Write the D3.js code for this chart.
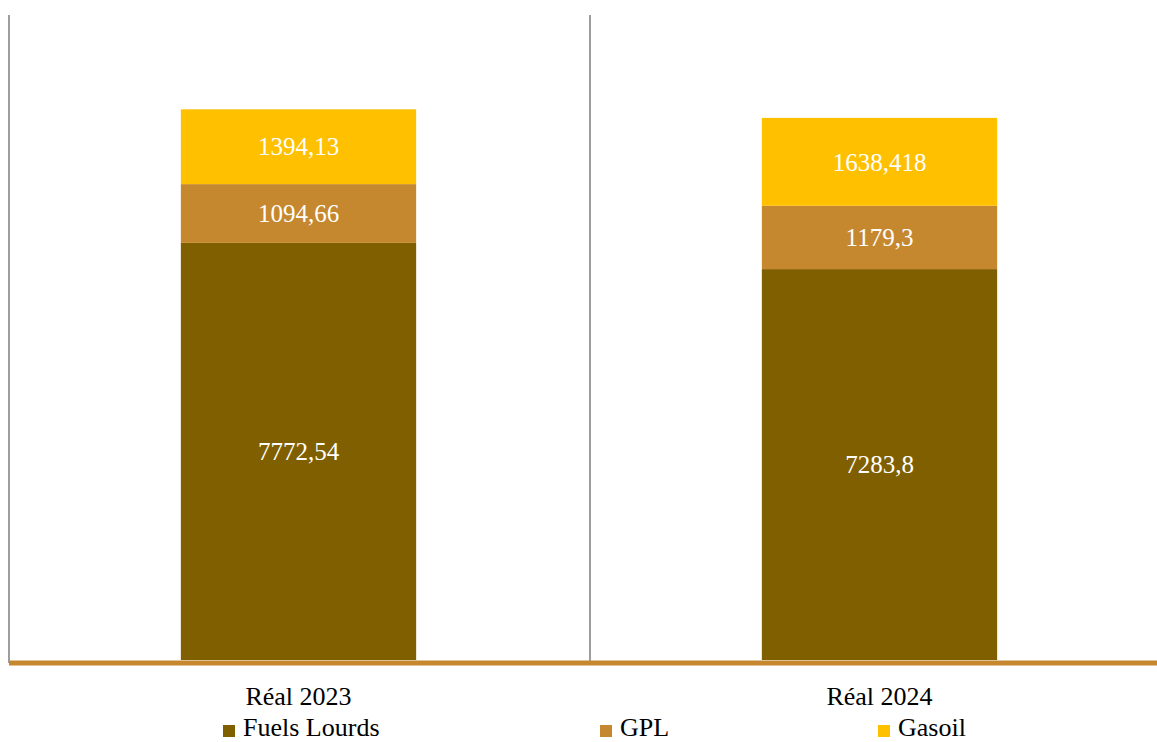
<!DOCTYPE html>
<html>
<head>
<meta charset="utf-8">
<script src="https://cdn.jsdelivr.net/npm/d3@7"></script>
<style>
  html, body { margin: 0; padding: 0; background: #fff; }
  svg { display: block; }
  text { font-family: "Liberation Serif", "Times New Roman", serif; }
</style>
</head>
<body>
<svg id="chart" width="1157" height="742"></svg>
<script>
// Categories and stacked series
const categories = ["Réal 2023", "Réal 2024"];
const seriesNames = ["Fuels Lourds", "GPL", "Gasoil"];
const fuelsLourds = [7772.54, 7283.8];
const gpl = [1094.66, 1179.3];
const gasoil = [1394.13, 1638.418];
const valueLabels = [
  ["7772,54", "7283,8"],
  ["1094,66", "1179,3"],
  ["1394,13", "1638,418"]
];
const colors = ["#7f5f00", "#c5882f", "#ffc000"];
const yMax = 12000;

const svg = d3.select("#chart");
const W = 1157, H = 742;
const plot = { left: 8, right: 1170, top: 16, bottom: 660 };

// rows for d3.stack
const rows = categories.map((c, i) => ({
  cat: c,
  "Fuels Lourds": fuelsLourds[i],
  "GPL": gpl[i],
  "Gasoil": gasoil[i]
}));
const stacked = d3.stack().keys(seriesNames)(rows);

const x = d3.scaleBand().domain(categories).range([plot.left, plot.right]).padding(0);
const barW = x.bandwidth() * 0.405;
const y = d3.scaleLinear().domain([0, yMax]).range([plot.bottom, plot.top]);

// category separators (left axis + divider)
svg.append("g").selectAll("line")
  .data(categories)
  .join("line")
  .attr("x1", d => x(d) + 1)
  .attr("x2", d => x(d) + 1)
  .attr("y1", plot.top - 1)
  .attr("y2", plot.bottom + 3)
  .attr("stroke", "#868686")
  .attr("stroke-width", 1.6);

// stacked bars
const layers = svg.append("g").selectAll("g")
  .data(stacked)
  .join("g")
  .attr("fill", (d, i) => colors[i]);

layers.selectAll("rect")
  .data(d => d.map(p => ({ p, cat: p.data.cat })))
  .join("rect")
  .attr("x", d => x(d.cat) + (x.bandwidth() - barW) / 2)
  .attr("width", barW)
  .attr("y", d => y(d.p[1]))
  .attr("height", d => y(d.p[0]) - y(d.p[1]));

// value labels
stacked.forEach((layer, si) => {
  svg.append("g").selectAll("text")
    .data(layer.map((p, ci) => ({ p, ci })))
    .join("text")
    .attr("x", d => x(categories[d.ci]) + x.bandwidth() / 2)
    .attr("y", d => (y(d.p[0]) + y(d.p[1])) / 2)
    .attr("dy", "0.35em")
    .attr("text-anchor", "middle")
    .attr("fill", "#ffffff")
    .attr("font-size", 25)
    .text(d => valueLabels[si][d.ci]);
});

// baseline
svg.append("line")
  .attr("x1", plot.left + 1)
  .attr("x2", W)
  .attr("y1", plot.bottom + 3)
  .attr("y2", plot.bottom + 3)
  .attr("stroke", "#c5882f")
  .attr("stroke-width", 5);

// category axis labels
const xAxis = d3.axisBottom(x).tickSize(0).tickPadding(0);
const gx = svg.append("g").attr("transform", `translate(0,${plot.bottom})`).call(xAxis);
gx.select(".domain").remove();
gx.selectAll("text")
  .attr("y", 45)
  .attr("dy", 0)
  .attr("fill", "#000")
  .attr("font-size", 26)
  .style("font-family", '"Liberation Serif", serif');

// legend
const legendX = [223, 600, 878];
const legend = svg.append("g").selectAll("g")
  .data(seriesNames)
  .join("g")
  .attr("transform", (d, i) => `translate(${legendX[i]},725)`);
legend.append("rect")
  .attr("width", 12)
  .attr("height", 12)
  .attr("fill", (d, i) => colors[i]);
legend.append("text")
  .attr("x", 20)
  .attr("y", 11)
  .attr("fill", "#000")
  .attr("font-size", 26)
  .text(d => d);
</script>
</body>
</html>
